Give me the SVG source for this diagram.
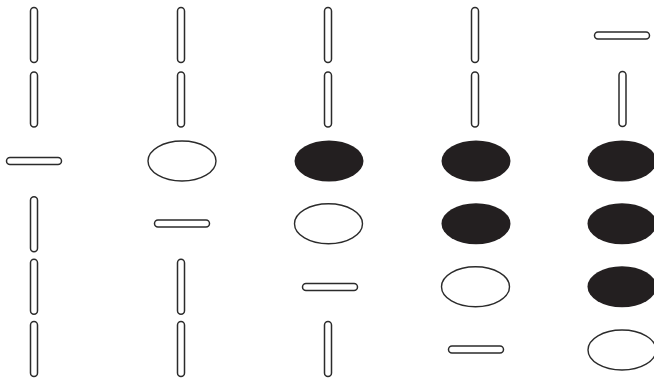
<svg xmlns="http://www.w3.org/2000/svg" width="654" height="379" viewBox="0 0 654 379">
<defs>
<style>
.v{fill:#fff;stroke:#2b2b2b;stroke-width:1.5}
.h{fill:#fff;stroke:#2b2b2b;stroke-width:1.5}
.o{fill:#fff;stroke:#2b2b2b;stroke-width:1.4}
.f{fill:#231f20;stroke:none}
</style>
<rect id="vrod" class="v" x="-3.5" y="-27.5" width="7" height="55" rx="3.5"/>
<rect id="hrod" class="h" x="-27.5" y="-3.5" width="55" height="7" rx="3.5"/>
<ellipse id="oell" class="o" cx="0" cy="0" rx="34" ry="20"/>
<ellipse id="fell" class="f" cx="0" cy="0" rx="34.5" ry="20.5"/>
</defs>
<rect width="654" height="379" fill="#fff"/>
<g id="col1">
<use id="c1r1" href="#vrod" x="34" y="35"/>
<use id="c1r2" href="#vrod" x="34" y="99.5"/>
<use id="c1r3" href="#hrod" x="34" y="161"/>
<use id="c1r4" href="#vrod" x="34" y="224.3"/>
<use id="c1r5" href="#vrod" x="34" y="286.7"/>
<use id="c1r6" href="#vrod" x="34" y="349"/>
</g>
<g id="col2">
<use id="c2r1" href="#vrod" x="181" y="35"/>
<use id="c2r2" href="#vrod" x="181" y="99.5"/>
<use id="c2r3" href="#oell" x="182" y="161"/>
<use id="c2r4" href="#hrod" x="182" y="223.5"/>
<use id="c2r5" href="#vrod" x="181" y="286.7"/>
<use id="c2r6" href="#vrod" x="181" y="349"/>
</g>
<g id="col3">
<use id="c3r1" href="#vrod" x="328" y="35"/>
<use id="c3r2" href="#vrod" x="328" y="99.5"/>
<use id="c3r3" href="#fell" x="329" y="161"/>
<use id="c3r4" href="#oell" x="328.5" y="223.7"/>
<use id="c3r5" href="#hrod" x="330" y="287"/>
<use id="c3r6" href="#vrod" x="328" y="349"/>
</g>
<g id="col4">
<use id="c4r1" href="#vrod" x="475" y="35"/>
<use id="c4r2" href="#vrod" x="475" y="99.5"/>
<use id="c4r3" href="#fell" x="476" y="161"/>
<use id="c4r4" href="#fell" x="476" y="223.7"/>
<use id="c4r5" href="#oell" x="475.5" y="286.7"/>
<use id="c4r6" href="#hrod" x="476" y="349.5"/>
</g>
<g id="col5">
<use id="c5r1" href="#hrod" x="622" y="35.5"/>
<use id="c5r2" href="#vrod" x="622.5" y="99"/>
<use id="c5r3" href="#fell" x="622" y="161"/>
<use id="c5r4" href="#fell" x="622" y="223.7"/>
<use id="c5r5" href="#fell" x="622" y="286.7"/>
<use id="c5r6" href="#oell" x="622" y="350"/>
</g>
</svg>
